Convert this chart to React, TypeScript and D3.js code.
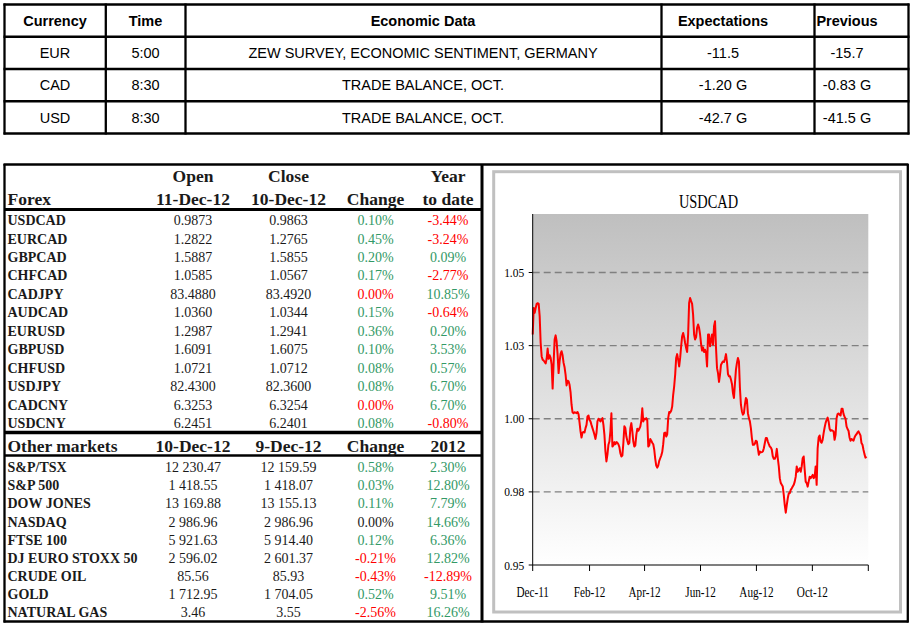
import React from "react";
import * as d3 from "d3";

// ---------- Economic calendar ----------
const calHeaders = ["Currency", "Time", "Economic Data", "Expectations", "Previous"];
const calCurrency = ["EUR", "CAD", "USD"];
const calTime = ["5:00", "8:30", "8:30"];
const calEvent = ["ZEW SURVEY, ECONOMIC SENTIMENT, GERMANY", "TRADE BALANCE, OCT.", "TRADE BALANCE, OCT."];
const calExpect = ["-11.5", "-1.20 G", "-42.7 G"];
const calPrevious = ["-15.7", "-0.83 G", "-41.5 G"];

// ---------- Forex ----------
const forexHeadTop = ["Open", "Close", "", "Year"];
const forexHeadBottom = ["11-Dec-12", "10-Dec-12", "Change", "to date"];
const forexPairs = ["USDCAD", "EURCAD", "GBPCAD", "CHFCAD", "CADJPY", "AUDCAD", "EURUSD", "GBPUSD", "CHFUSD", "USDJPY", "CADCNY", "USDCNY"];
const forexOpen = [0.9873, 1.2822, 1.5887, 1.0585, 83.488, 1.036, 1.2987, 1.6091, 1.0721, 82.43, 6.3253, 6.2451];
const forexClose = [0.9863, 1.2765, 1.5855, 1.0567, 83.492, 1.0344, 1.2941, 1.6075, 1.0712, 82.36, 6.3254, 6.2401];
const forexChange = [0.1, 0.45, 0.2, 0.17, 0.0, 0.15, 0.36, 0.1, 0.08, 0.08, 0.0, 0.08];
const forexYtd = [-3.44, -3.24, 0.09, -2.77, 10.85, -0.64, 0.2, 3.53, 0.57, 6.7, 6.7, -0.8];

// ---------- Other markets ----------
const mktHeads = ["Other markets", "10-Dec-12", "9-Dec-12", "Change", "2012"];
const mktNames = ["S&P/TSX", "S&P 500", "DOW JONES", "NASDAQ", "FTSE 100", "DJ EURO STOXX 50", "CRUDE OIL", "GOLD", "NATURAL GAS"];
const mktLast = [12230.47, 1418.55, 13169.88, 2986.96, 5921.63, 2596.02, 85.56, 1712.95, 3.46];
const mktPrev = [12159.59, 1418.07, 13155.13, 2986.96, 5914.4, 2601.37, 85.93, 1704.05, 3.55];
const mktChange = [0.58, 0.03, 0.11, 0.0, 0.12, -0.21, -0.43, 0.52, -2.56];
const mktYtd = [2.3, 12.8, 7.79, 14.66, 6.36, 12.82, -12.89, 9.51, 16.26];

// ---------- USDCAD chart ----------
const chartTitle = "USDCAD";
const firstObs = "2011-12-12";
const lastObs = "2012-12-10";
const axisStart = "2011-12-12";
const axisEnd = "2012-12-12";
const xTickDates = ["2011-12-12", "2012-02-12", "2012-04-12", "2012-06-12", "2012-08-12", "2012-10-12", "2012-12-12"];
const xTickLabels = ["Dec-11", "Feb-12", "Apr-12", "Jun-12", "Aug-12", "Oct-12", ""];
const yTicks = [0.95, 0.975, 1.0, 1.025, 1.05];
const yTickLabels = ["0.95", "0.98", "1.00", "1.03", "1.05"];
const yDomain = [0.95, 1.07];
const usdcadClose = [
  1.0288, 1.0379, 1.0362, 1.0379, 1.0393, 1.0395, 1.0393, 1.0351, 1.0259, 1.0213,
  1.0202, 1.0199, 1.0194, 1.0189, 1.0205, 1.024, 1.0205, 1.0217, 1.0208, 1.0185,
  1.0103, 1.0191, 1.0271, 1.0285, 1.0265, 1.0219, 1.0156, 1.0196, 1.0223, 1.0231,
  1.0217, 1.0191, 1.0176, 1.0151, 1.0114, 1.013, 1.0128, 1.0116, 1.0091, 1.0048,
  1.0022, 1.0019, 1.0022, 1.0021, 1.0019, 1.0023, 1.0016, 0.9988, 0.9957, 0.9936,
  0.9953, 0.9955, 0.9953, 0.9968, 0.9979, 1.0008, 1.0011, 0.9996, 0.9991, 0.9979,
  0.9968, 0.9957, 0.9945, 0.9931, 0.9951, 0.9991, 1.0, 0.9996, 0.9991, 0.9996,
  1.0002, 0.9979, 0.9945, 0.9888, 0.9854, 0.9877, 0.9911, 0.9922, 0.9957, 1.0019,
  0.9905, 0.9909, 0.992, 0.9913, 0.992, 0.9918, 0.9913, 0.9903, 0.9882, 0.9871,
  0.9874, 0.9917, 0.9974, 0.9968, 0.9939, 0.9925, 0.9913, 0.9917, 0.9968, 0.9985,
  0.9957, 0.9922, 0.9905, 0.9909, 0.9945, 0.9966, 0.9959, 0.9966, 0.9973, 0.9993,
  1.0036, 0.9991, 1.0, 0.9998, 1.0002, 0.9995, 0.9905, 0.9909, 0.9931, 0.9925,
  0.9918, 0.9913, 0.9894, 0.9863, 0.984, 0.9833, 0.984, 0.9856, 0.9865, 0.9874,
  0.9886, 0.9913, 0.9951, 0.9953, 0.9939, 0.9947, 1.0002, 1.0023, 1.0021, 1.0027,
  1.0042, 1.0082, 1.0111, 1.0151, 1.0208, 1.0221, 1.0202, 1.0179, 1.0208, 1.0248,
  1.0282, 1.0293, 1.0279, 1.0259, 1.0242, 1.0228, 1.0288, 1.0396, 1.0413, 1.0402,
  1.0393, 1.0356, 1.0288, 1.0271, 1.0279, 1.0311, 1.0322, 1.0311,
  1.0288, 1.0256, 1.0233, 1.0244, 1.0228, 1.0236, 1.0225, 1.0179, 1.0288, 1.0288,
  1.0248, 1.0267, 1.0288, 1.0253, 1.0316, 1.0333, 1.0242, 1.0173, 1.0156, 1.0126,
  1.0151, 1.0185, 1.0191, 1.0196, 1.0194, 1.0205, 1.0221, 1.0194, 1.0153, 1.0145,
  1.0145, 1.0134, 1.0119, 1.0088, 1.0071, 1.0122, 1.0168, 1.0191, 1.0208, 1.0196,
  1.0105, 1.0048, 1.0025, 1.0014, 1.0019, 1.0048, 1.0071, 1.0065, 1.0019, 1.0002,
  0.9991, 0.9968, 0.9934, 0.9911, 0.9911, 0.9915, 0.9925, 0.9922, 0.9899, 0.9877,
  0.9888, 0.9885, 0.9886, 0.9888, 0.9899, 0.9917, 0.9934, 0.9934, 0.9922, 0.9913,
  0.9905, 0.9902, 0.9894, 0.9871, 0.9863, 0.9863, 0.9871, 0.9897, 0.9865, 0.9837,
  0.9797, 0.978, 0.9774, 0.9768, 0.974, 0.9705, 0.9679, 0.9705, 0.9728, 0.9745,
  0.9745, 0.9757, 0.9762, 0.9768, 0.9774, 0.9785, 0.9802, 0.9837, 0.9819, 0.9825,
  0.9831, 0.9819, 0.9837, 0.9865, 0.9871, 0.9825, 0.9785, 0.978, 0.9768, 0.9785,
  0.9802, 0.9797, 0.9802, 0.9808, 0.9797, 0.9802, 0.9837, 0.9774, 0.9899, 0.9936,
  0.9943, 0.9922, 0.9918, 0.9928, 0.9951, 0.997, 0.9986, 0.9996, 1.0004, 0.9991,
  0.9966, 0.9959, 0.9961, 0.9959, 0.9957, 0.9928, 0.9945, 1.0002, 1.0016, 1.0018,
  1.0014, 1.0011, 1.0034, 1.0034, 1.0016, 1.0007, 1.0, 0.9974, 0.9965, 0.9959,
  0.9936, 0.9925, 0.9931, 0.9928, 0.9925, 0.9936, 0.9943, 0.9947, 0.9953, 0.9957,
  0.995, 0.9943, 0.9917, 0.9911, 0.9894, 0.9879, 0.9867, 0.9871,
];

const GREEN = "#339966";
const RED = "#ff0000";
const INK = "#1a1a1a";
const SERIF = "'Liberation Serif', 'DejaVu Serif', serif";
const SANS = "'Liberation Sans', Arial, sans-serif";

const loc = d3.formatLocale({ decimal: ".", thousands: " ", grouping: [3], currency: ["", ""], minus: "-" });
const fmt4 = loc.format(".4f");
const fmtNum = loc.format(",.2f");
const fmtPct = (v: number) => loc.format(".2f")(v) + "%";
const signColor = (v: number) => (v > 0 ? GREEN : v < 0 ? RED : INK);

export default function App() {
  const parse = d3.timeParse("%Y-%m-%d");
  // ----- top table geometry
  const colX = [4.5, 105.8, 185.5, 661.5, 814.5, 908.5];
  const colCenter = [55, 145.5, 423, 723, 847];
  const rowY = d3.scaleLinear().domain([0, 4]).range([4.5, 133.5]);

  // ----- bottom left table
  const tx = { label: 7.5, c1: 193, c2: 288.5, c3: 375.5, c4: 448 };
  const forexRow = d3.scaleLinear().domain([0, forexPairs.length - 1]).range([220.5, 423.5]);
  const mktRow = d3.scaleLinear().domain([0, mktNames.length - 1]).range([467.5, 612.8]);

  // ----- chart
  const t0 = parse(firstObs)!.getTime();
  const t1 = parse(lastObs)!.getTime();
  const n = usdcadClose.length;
  const series = usdcadClose.map((v, i) => ({ date: new Date(t0 + ((t1 - t0) * i) / (n - 1)), v }));
  const x = d3.scaleTime().domain([parse(axisStart)!, parse(axisEnd)!]).range([532.7, 868.3]);
  const y = d3.scaleLinear().domain(yDomain).range([565, 214]);
  const line = d3.line<{ date: Date; v: number }>().x((d) => x(d.date)).y((d) => y(d.v));
  const [px0, px1] = x.range();
  const [py0, py1] = y.range();

  const calCols = [calCurrency, calTime, calEvent, calExpect, calPrevious];

  return (
    <svg width={915} height={628} style={{ position: "absolute", left: 0, top: 0, background: "#fff" }}>
      <defs>
        <linearGradient id="plotBg" x1="0" y1="0" x2="0" y2="1">
          <stop offset="0" stopColor="#bfbfbf" />
          <stop offset="1" stopColor="#ffffff" />
        </linearGradient>
      </defs>
      <rect x={0} y={0} width={915} height={628} fill="#fff" />

      {/* ===== Top calendar table ===== */}
      <g stroke="#000" strokeWidth={2.3}>
        {rowY.ticks(4).map((i) => (
          <line key={"h" + i} x1={colX[0] - 1} x2={colX[5] + 1} y1={rowY(i)} y2={rowY(i)} />
        ))}
        {colX.map((cx, i) => (
          <line key={"v" + i} x1={cx} x2={cx} y1={rowY(0) - 1} y2={rowY(4) + 1} />
        ))}
      </g>
      <g fontFamily={SANS} fontSize={14.5} textAnchor="middle" fill="#000">
        {calHeaders.map((h, i) => (
          <text key={h} x={colCenter[i]} y={(rowY(0) + rowY(1)) / 2 + 5.2} fontWeight="bold">
            {h}
          </text>
        ))}
        {calCols.map((col, c) =>
          col.map((s, r) => (
            <text key={c + "-" + r} x={colCenter[c]} y={(rowY(r + 1) + rowY(r + 2)) / 2 + 5.2}>
              {s}
            </text>
          ))
        )}
      </g>

      {/* ===== Bottom frames ===== */}
      <g stroke="#000" fill="none">
        <line x1={3.5} x2={908.5} y1={164.5} y2={164.5} strokeWidth={2.3} />
        <line x1={4.5} x2={4.5} y1={164} y2={622.5} strokeWidth={2.3} />
        <line x1={3.5} x2={908.5} y1={621.5} y2={621.5} strokeWidth={2.6} />
        <line x1={907.8} x2={907.8} y1={164} y2={622.5} strokeWidth={2.3} />
        <line x1={482} x2={482} y1={164} y2={622.5} strokeWidth={3} />
        <line x1={4} x2={482} y1={209.5} y2={209.5} strokeWidth={3} />
        <line x1={4} x2={482} y1={432.5} y2={432.5} strokeWidth={3.3} />
        <line x1={4} x2={482} y1={455.5} y2={455.5} strokeWidth={2.5} />
      </g>

      {/* ===== Forex table ===== */}
      <g fontFamily={SERIF} fill={INK}>
        <g fontSize={17.5} fontWeight="bold" textAnchor="middle">
          {[tx.c1, tx.c2, tx.c3, tx.c4].map((cx, i) => (
            <g key={i}>
              <text x={cx} y={181.5}>{forexHeadTop[i]}</text>
              <text x={cx} y={204.5}>{forexHeadBottom[i]}</text>
            </g>
          ))}
          <text x={tx.label} y={204.5} textAnchor="start">Forex</text>
        </g>
        {forexPairs.map((p, i) => {
          const yy = forexRow(i) + 4.6;
          return (
            <g key={p} fontSize={14}>
              <text x={tx.label} y={yy} fontWeight="bold">{p}</text>
              <text x={tx.c1} y={yy} textAnchor="middle">{fmt4(forexOpen[i])}</text>
              <text x={tx.c2} y={yy} textAnchor="middle">{fmt4(forexClose[i])}</text>
              <text x={tx.c3} y={yy} textAnchor="middle" fill={signColor(forexOpen[i] - forexClose[i])}>
                {fmtPct(forexChange[i])}
              </text>
              <text x={tx.c4} y={yy} textAnchor="middle" fill={signColor(forexYtd[i])}>
                {fmtPct(forexYtd[i])}
              </text>
            </g>
          );
        })}

        {/* other markets */}
        <g fontSize={17.5} fontWeight="bold" textAnchor="middle">
          <text x={tx.label} y={451.5} textAnchor="start">{mktHeads[0]}</text>
          {[tx.c1, tx.c2, tx.c3, tx.c4].map((cx, i) => (
            <text key={i} x={cx} y={451.5}>{mktHeads[i + 1]}</text>
          ))}
        </g>
        {mktNames.map((p, i) => {
          const yy = mktRow(i) + 4.6;
          return (
            <g key={p} fontSize={14}>
              <text x={tx.label} y={yy} fontWeight="bold">{p}</text>
              <text x={tx.c1} y={yy} textAnchor="middle">{fmtNum(mktLast[i])}</text>
              <text x={tx.c2} y={yy} textAnchor="middle">{fmtNum(mktPrev[i])}</text>
              <text x={tx.c3} y={yy} textAnchor="middle" fill={signColor(mktLast[i] - mktPrev[i])}>
                {fmtPct(mktChange[i])}
              </text>
              <text x={tx.c4} y={yy} textAnchor="middle" fill={signColor(mktYtd[i])}>
                {fmtPct(mktYtd[i])}
              </text>
            </g>
          );
        })}
      </g>

      {/* ===== USDCAD chart ===== */}
      <rect x={493.7} y={171.7} width={406.8} height={440.3} fill="#fff" stroke="#c0c0c0" strokeWidth={3} />
      <text
        transform={`translate(${(px0 + px1) / 2 + 8},207.5) scale(0.8,1)`}
        textAnchor="middle"
        fontFamily={SERIF}
        fontSize={18}
        fill="#000"
      >
        {chartTitle}
      </text>
      <rect x={px0} y={py1} width={px1 - px0} height={py0 - py1} fill="url(#plotBg)" />
      <g stroke="#808080" strokeWidth={1.3} strokeDasharray="7,4">
        {yTicks.slice(1).map((t) => (
          <line key={t} x1={px0} x2={px1} y1={y(t)} y2={y(t)} />
        ))}
      </g>
      <path d={line(series) || ""} fill="none" stroke="#ff0000" strokeWidth={2} strokeLinejoin="round" />
      <g stroke="#000" strokeWidth={1}>
        <line x1={px0} x2={px0} y1={py1} y2={py0} />
        <line x1={px0} x2={px1} y1={py0} y2={py0} />
        {yTicks.map((t) => (
          <line key={t} x1={px0 - 4} x2={px0} y1={y(t)} y2={y(t)} />
        ))}
        {xTickDates.map((d) => {
          const xx = x(parse(d)!);
          return <line key={d} x1={xx} x2={xx} y1={py0} y2={py0 + 6} />;
        })}
      </g>
      <g fontFamily={SERIF} fill="#000">
        {yTicks.map((t, i) => (
          <text key={t} transform={`translate(${px0 - 8.5},${y(t) + 4.5}) scale(0.85,1)`} textAnchor="end" fontSize={13.5}>
            {yTickLabels[i]}
          </text>
        ))}
        {xTickDates.map((d, i) => (
          <text
            key={d}
            transform={`translate(${x(parse(d)!)},597) scale(0.8,1)`}
            textAnchor="middle"
            fontSize={14}
          >
            {xTickLabels[i]}
          </text>
        ))}
      </g>
    </svg>
  );
}
